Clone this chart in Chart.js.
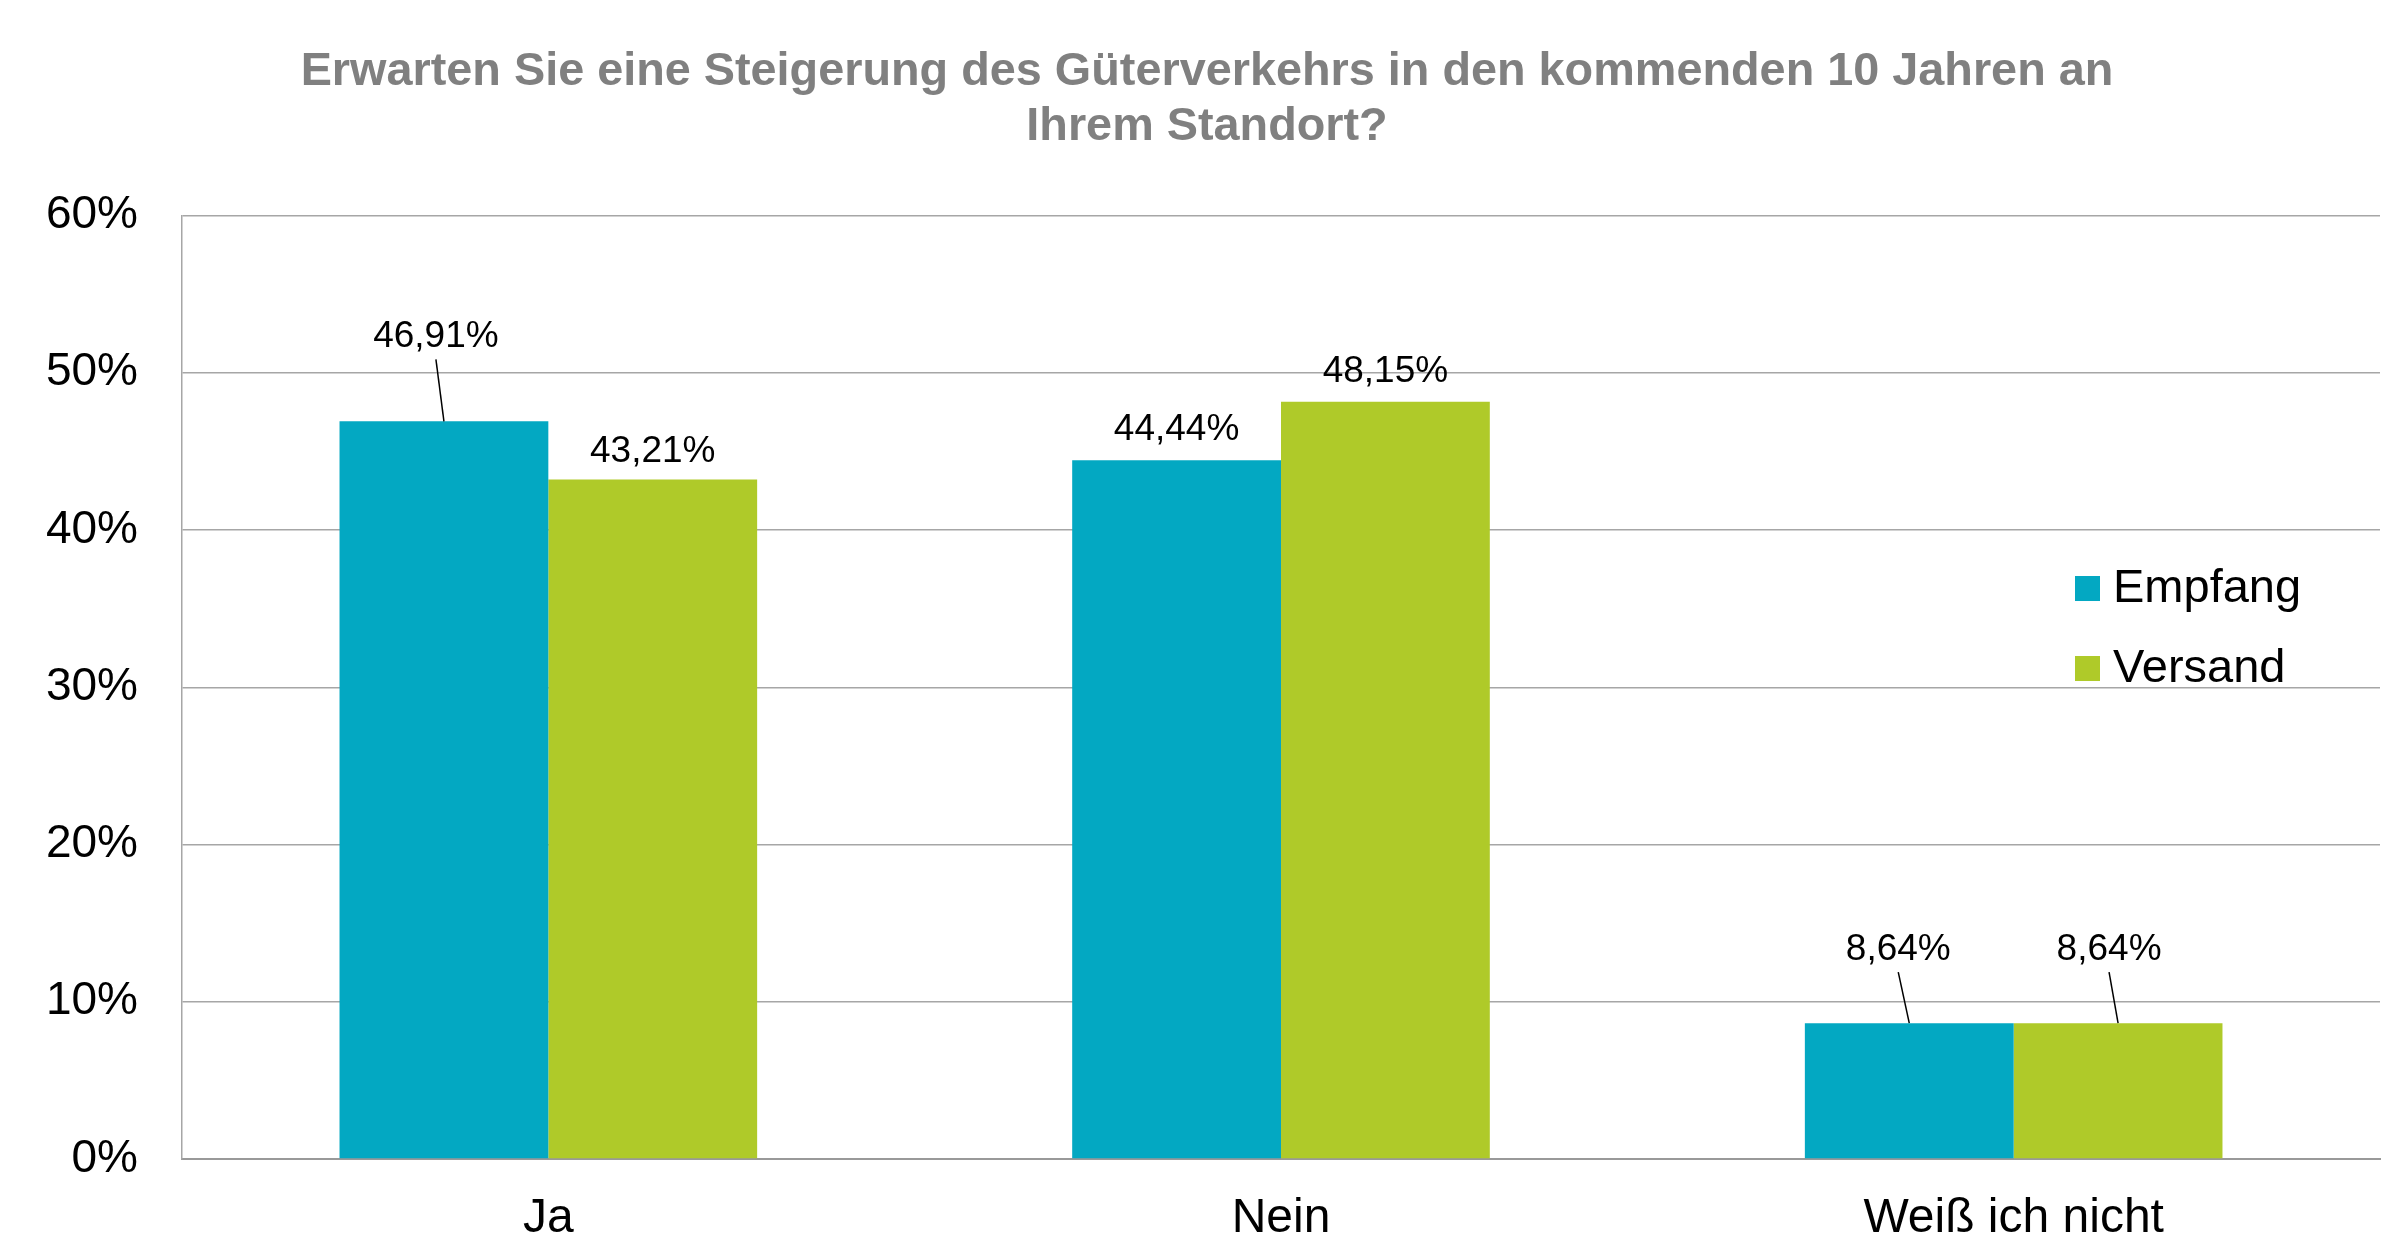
<!DOCTYPE html>
<html>
<head>
<meta charset="utf-8">
<script src="https://cdn.jsdelivr.net/npm/chart.js@4/dist/chart.umd.min.js"></script>
<style>
  html, body { margin: 0; padding: 0; background: #fff; }
  #chart { display: block; }
</style>
</head>
<body>
<canvas id="chart" width="2404" height="1242"></canvas>
<script>
const categories = ['Ja', 'Nein', 'Weiß ich nicht'];
const empfang = [46.91, 44.44, 8.64];
const versand = [43.21, 48.15, 8.64];
const yTicks = [0, 10, 20, 30, 40, 50, 60];
const titleLines = ['Erwarten Sie eine Steigerung des Güterverkehrs in den kommenden 10 Jahren an', 'Ihrem Standort?'];

const FONT = '"Liberation Sans", Arial, Helvetica, sans-serif';
const EMPFANG_COLOR = '#03A8C2';
const VERSAND_COLOR = '#AFCA29';
const GRID_COLOR = '#A6A6A6';

// label placement tweaks (lifted labels get a leader line)
const labelLift = [
  [{ dx: -8, lift: 74 }, { dx: 0, lift: 20 }, { dx: -11, lift: 63 }],
  [{ dx: 0, lift: 18 }, { dx: 0, lift: 20 }, { dx: -9, lift: 63 }],
];

function fmtPct(v) {
  return v.toFixed(2).replace('.', ',') + '%';
}

const dataLabels = {
  id: 'dataLabels',
  afterDatasetsDraw(chart) {
    const ctx = chart.ctx;
    ctx.save();
    ctx.font = `37px ${FONT}`;
    ctx.fillStyle = '#000';
    ctx.textAlign = 'center';
    ctx.textBaseline = 'alphabetic';
    chart.data.datasets.forEach((ds, di) => {
      const meta = chart.getDatasetMeta(di);
      meta.data.forEach((bar, i) => {
        const cfg = labelLift[di][i];
        const lx = bar.x + cfg.dx;
        const ly = bar.y - cfg.lift;
        ctx.fillText(fmtPct(ds.data[i]), lx, ly);
        if (cfg.lift > 30) {
          ctx.beginPath();
          ctx.strokeStyle = '#000';
          ctx.lineWidth = 1.5;
          ctx.moveTo(lx, ly + 12);
          ctx.lineTo(bar.x, bar.y);
          ctx.stroke();
        }
      });
    });
    ctx.restore();
  },
};

const sideLegend = {
  id: 'sideLegend',
  afterDraw(chart) {
    const ctx = chart.ctx;
    const area = chart.chartArea;
    const x = area.right - 305;
    const rows = [area.top + 373, area.top + 453];
    ctx.save();
    ctx.font = `47px ${FONT}`;
    ctx.textAlign = 'left';
    ctx.textBaseline = 'middle';
    chart.data.datasets.forEach((ds, di) => {
      const y = rows[di];
      ctx.fillStyle = ds.backgroundColor;
      ctx.fillRect(x, y - 12.5, 25, 25);
      ctx.fillStyle = '#000';
      ctx.fillText(ds.label, x + 38, y + 1);
    });
    ctx.restore();
  },
};

new Chart(document.getElementById('chart'), {
  type: 'bar',
  data: {
    labels: categories,
    datasets: [
      { label: 'Empfang', data: empfang, backgroundColor: EMPFANG_COLOR, categoryPercentage: 0.57, barPercentage: 1.0 },
      { label: 'Versand', data: versand, backgroundColor: VERSAND_COLOR, categoryPercentage: 0.57, barPercentage: 1.0 },
    ],
  },
  options: {
    responsive: false,
    animation: false,
    layout: { padding: { left: 34, right: 24, top: 0, bottom: 0 } },
    plugins: {
      legend: { display: false },
      tooltip: { enabled: false },
      title: {
        display: true,
        text: titleLines,
        color: '#808080',
        font: { family: FONT, size: 46.8, weight: 'bold', lineHeight: 1.17 },
        padding: { top: 45, bottom: 61 },
      },
    },
    scales: {
      x: {
        grid: { display: false, drawTicks: false },
        border: { display: true, color: '#999999', width: 2 },
        ticks: { color: '#000', font: { family: FONT, size: 48 }, padding: 31 },
        afterFit(scale) { scale.height = 83; },
      },
      y: {
        min: yTicks[0],
        max: yTicks[yTicks.length - 1],
        afterBuildTicks(scale) { scale.ticks = yTicks.map((v) => ({ value: v })); },
        grid: { color: GRID_COLOR, lineWidth: 1.5, drawTicks: false },
        border: { display: true, color: GRID_COLOR, width: 1.5 },
        ticks: {
          color: '#000',
          font: { family: FONT, size: 46 },
          padding: 44,
          callback: (v) => v + '%',
        },
        afterFit(scale) { scale.width = 148; },
      },
    },
  },
  plugins: [dataLabels, sideLegend],
});
</script>
</body>
</html>
